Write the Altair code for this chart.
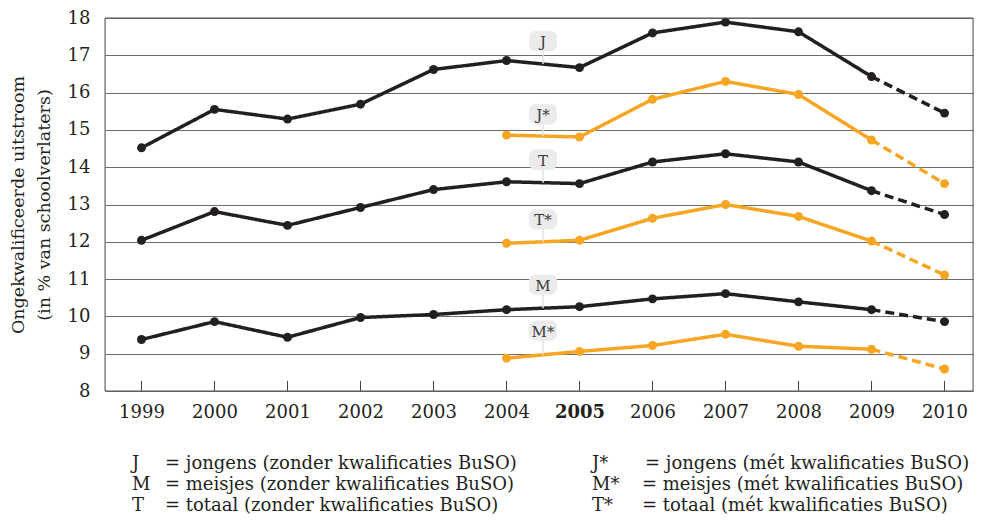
import altair as alt
import pandas as pd

years = [1999, 2000, 2001, 2002, 2003, 2004, 2005, 2006, 2007, 2008, 2009, 2010]
J = [14.52, 15.55, 15.29, 15.69, 16.62, 16.86, 16.67, 17.60, 17.89, 17.63, 16.43, 15.45]
T = [12.04, 12.81, 12.44, 12.92, 13.40, 13.61, 13.56, 14.14, 14.36, 14.14, 13.37, 12.73]
M = [9.38, 9.86, 9.44, 9.97, 10.05, 10.18, 10.26, 10.47, 10.61, 10.39, 10.18, 9.86]
years_star = [2004, 2005, 2006, 2007, 2008, 2009, 2010]
J_star = [14.86, 14.81, 15.82, 16.30, 15.95, 14.73, 13.56]
T_star = [11.96, 12.04, 12.63, 13.00, 12.68, 12.02, 11.11]
M_star = [8.88, 9.06, 9.22, 9.52, 9.20, 9.12, 8.59]

label_names = ["J", "J*", "T", "T*", "M", "M*"]
label_y = [17.38, 15.42, 14.20, 12.60, 10.85, 9.62]
label_x = 2004.5

legend_keys = ["J", "M", "T", "J*", "M*", "T*"]
legend_texts = [
    "= jongens (zonder kwalificaties BuSO)",
    "= meisjes (zonder kwalificaties BuSO)",
    "= totaal (zonder kwalificaties BuSO)",
    "= jongens (mét kwalificaties BuSO)",
    "= meisjes (mét kwalificaties BuSO)",
    "= totaal (mét kwalificaties BuSO)",
]

BLACK = "#231f20"
ORANGE = "#f6a623"
BUBBLE = "#ebebeb"
FONT = "DejaVu Serif"

series = [
    ("J", "zonder", years, J),
    ("T", "zonder", years, T),
    ("M", "zonder", years, M),
    ("J*", "met", years_star, J_star),
    ("T*", "met", years_star, T_star),
    ("M*", "met", years_star, M_star),
]

line_rows, point_rows = [], []
for name, kind, xs, ys in series:
    for x, y in zip(xs, ys):
        point_rows.append({"name": name, "kind": kind, "year": x, "value": y})
        if x <= 2009:
            line_rows.append({"name": name, "kind": kind, "seg": "solid", "grp": name + "s", "year": x, "value": y})
        if x >= 2009:
            line_rows.append({"name": name, "kind": kind, "seg": "dashed", "grp": name + "d", "year": x, "value": y})
lines_df = pd.DataFrame(line_rows)
points_df = pd.DataFrame(point_rows)

mid = {}
for name, kind, xs, ys in series:
    d = dict(zip(xs, ys))
    mid[name] = (d[2004] + d[2005]) / 2
labels_df = pd.DataFrame({
    "name": label_names,
    "year": [label_x] * len(label_names),
    "value": label_y,
    "value2": [mid[n] for n in label_names],
})

W, H = 868, 373
xscale = alt.Scale(domain=[1998.5, 2010.39], nice=False, zero=False)
yscale = alt.Scale(domain=[8, 18], nice=False, zero=False)
color_scale = alt.Scale(domain=["zonder", "met"], range=[BLACK, ORANGE])

xaxis = alt.Axis(
    values=years, format="d", title=None, grid=False, ticks=False, domain=False,
    labelFont=FONT, labelFontSize=18, labelColor=BLACK, labelPadding=12, labelOverlap=False,
    labelFontWeight={"condition": {"test": "datum.value == 2005", "value": "bold"}, "value": "normal"},
)
yaxis = alt.Axis(
    values=list(range(8, 19)), title=["Ongekwalificeerde uitstroom", "(in % van schoolverlaters)"],
    grid=True, gridColor="#6d6d6d", gridWidth=1, ticks=False, domain=False, labelOverlap=False,
    labelFont=FONT, labelFontSize=18, labelColor=BLACK, labelPadding=15,
    titleFont=FONT, titleFontSize=17.5, titleFontWeight="normal", titleColor=BLACK,
    titlePadding=14, titleLineHeight=26,
)


def X(field="year:Q"):
    return alt.X(field, scale=xscale, axis=xaxis)


def Y(field="value:Q"):
    return alt.Y(field, scale=yscale, axis=yaxis)


lines = alt.Chart(lines_df).mark_line(strokeWidth=3.5).encode(
    x=X(), y=Y(),
    color=alt.Color("kind:N", scale=color_scale, legend=None),
    strokeDash=alt.StrokeDash("seg:N", scale=alt.Scale(domain=["solid", "dashed"], range=[[1, 0], [9, 5]]), legend=None),
    detail="grp:N",
)
points = alt.Chart(points_df).mark_circle(size=80, opacity=1).encode(
    x=X(), y=Y(),
    color=alt.Color("kind:N", scale=color_scale, legend=None),
)

ticks = alt.Chart(pd.DataFrame({"year": years})).mark_rule(color="#444", strokeWidth=1).encode(
    x=X(), y=alt.value(H), y2=alt.value(H - 10)
)

stems = alt.Chart(labels_df).mark_rule(color="#e2e2e2", strokeWidth=1.5).encode(
    x=X(), y=Y(), y2="value2:Q"
)
rr = ("M-0.5,-0.66 H0.5 A0.42,0.42 0 0 1 0.92,-0.24 V0.24 A0.42,0.42 0 0 1 0.5,0.66 "
      "H-0.5 A0.42,0.42 0 0 1 -0.92,0.24 V-0.24 A0.42,0.42 0 0 1 -0.5,-0.66 Z")
bubbles = alt.Chart(labels_df).mark_point(
    shape=rr, filled=True, fill=BUBBLE, stroke=BUBBLE, strokeWidth=0.5, opacity=1, fillOpacity=1, size=900
).encode(x=X(), y=Y())
bubble_text = alt.Chart(labels_df).mark_text(font=FONT, fontSize=15, color="#3a3a3a", baseline="middle", dy=1).encode(
    x=X(), y=Y(), text="name:N"
)

frame = alt.Chart(pd.DataFrame({"a": [0]})).mark_rect(fill=None, stroke="#555", strokeWidth=1).encode(
    x=alt.value(0), x2=alt.value(W), y=alt.value(0), y2=alt.value(H)
)

legend_layers = []
key_x = [27, 27, 27, 487, 487, 487]
eq_x = [60, 60, 60, 540, 537, 537]
row_y = [446, 467, 488, 446, 467, 488]
for i in range(6):
    d = pd.DataFrame({"k": [legend_keys[i]], "t": [legend_texts[i]]})
    legend_layers.append(alt.Chart(d).mark_text(font=FONT, fontSize=18, color=BLACK, align="left", baseline="middle").encode(
        x=alt.value(key_x[i]), y=alt.value(row_y[i]), text="k:N"))
    legend_layers.append(alt.Chart(d).mark_text(font=FONT, fontSize=18, color=BLACK, align="left", baseline="middle").encode(
        x=alt.value(eq_x[i]), y=alt.value(row_y[i]), text="t:N"))

chart = alt.layer(lines, points, ticks, stems, bubbles, bubble_text, frame, *legend_layers).properties(
    width=W, height=H,
    autosize=alt.AutoSizeParams(type="none"),
    padding={"left": 97, "top": 10, "right": 1, "bottom": 127},
).configure_view(stroke=None).configure(background="white")

chart.save("out.html", embed_options={"renderer": "svg", "actions": False})
